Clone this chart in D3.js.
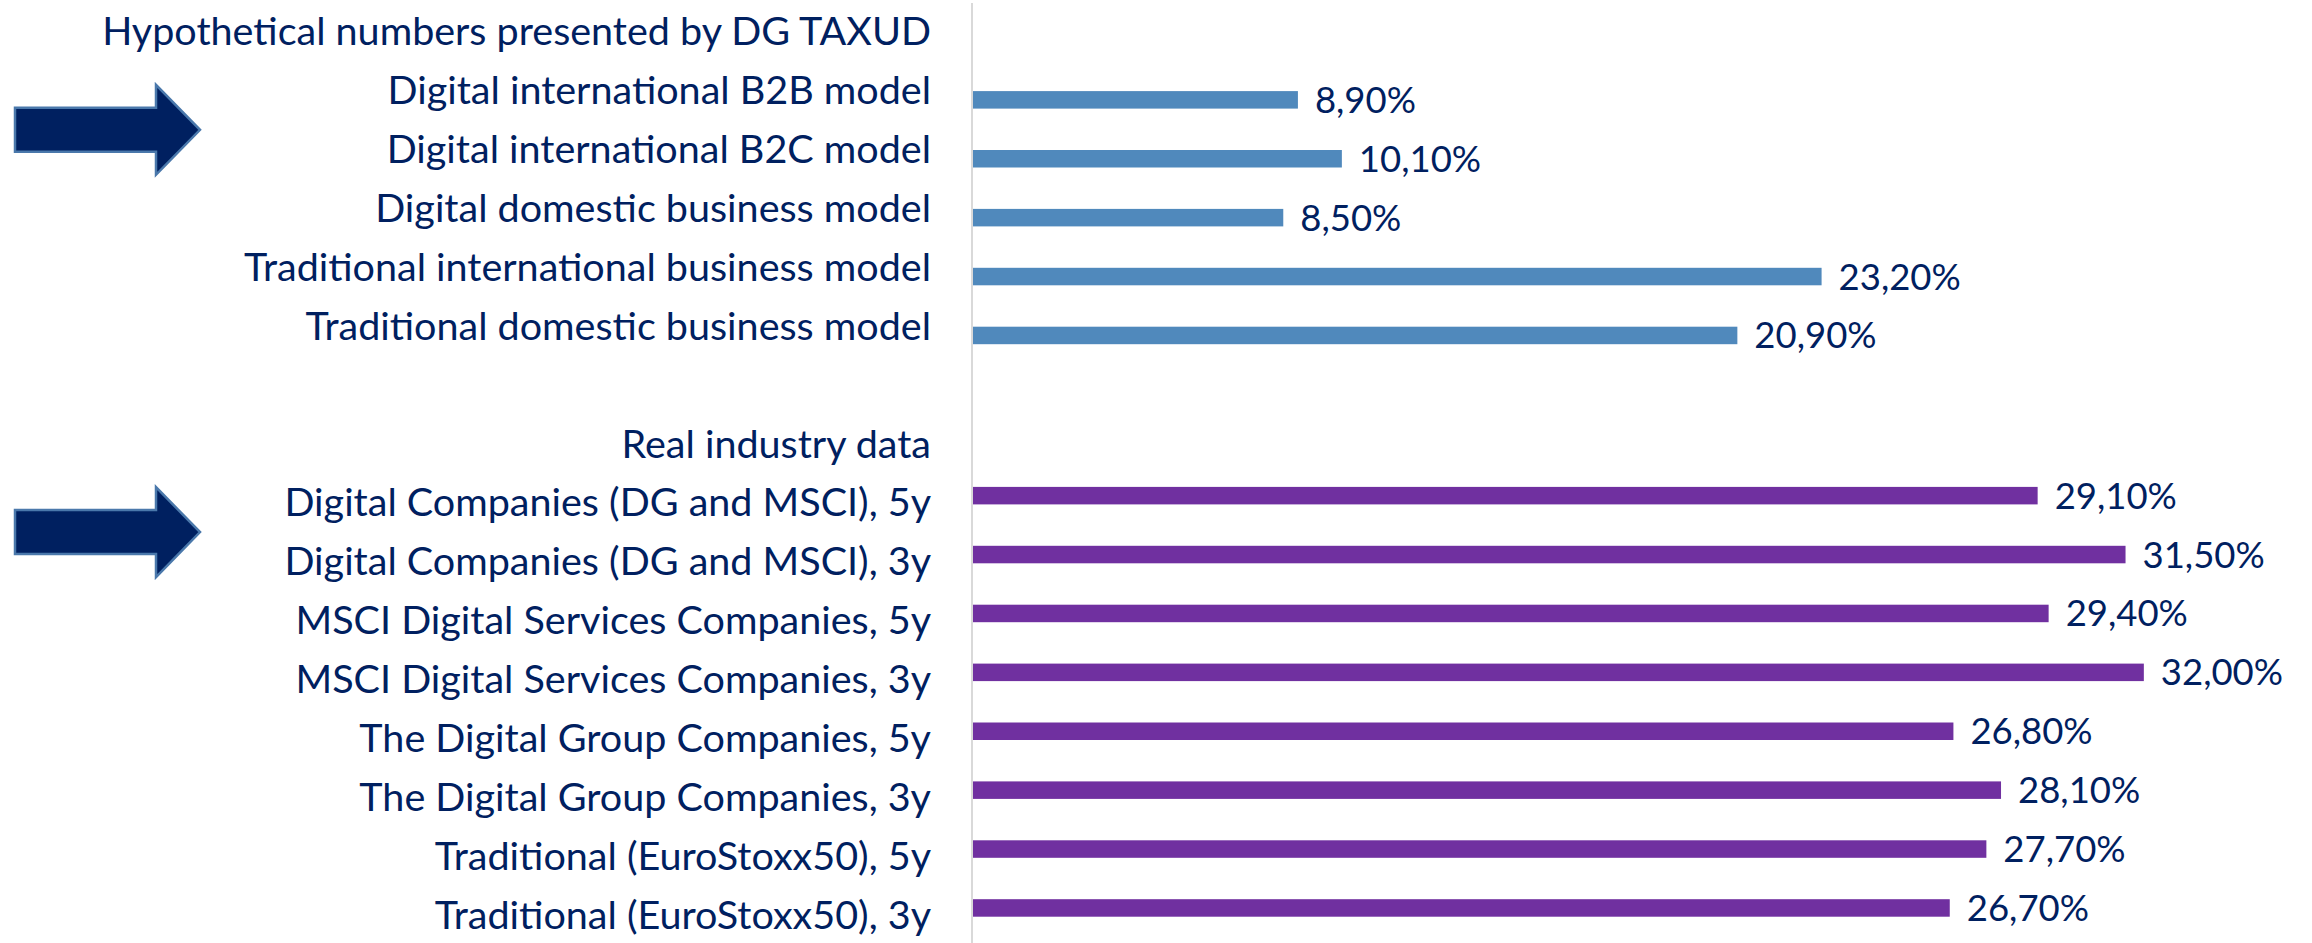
<!DOCTYPE html>
<html>
<head>
<meta charset="utf-8">
<script src="https://cdn.jsdelivr.net/npm/d3@7"></script>
<style>
  body { margin: 0; background: #fff; }
  svg text { font-family: Lato, "Open Sans", sans-serif; fill: #002060; }
</style>
</head>
<body>
<svg class="chart"></svg>
<script>
// rows of the chart, top to bottom (headers and a blank spacer have no bar)
var rows = [
  "Hypothetical numbers presented by DG TAXUD",
  "Digital international B2B model",
  "Digital international B2C model",
  "Digital domestic business model",
  "Traditional international business model",
  "Traditional domestic business model",
  "",
  "Real industry data",
  "Digital Companies (DG and MSCI), 5y",
  "Digital Companies (DG and MSCI), 3y",
  "MSCI Digital Services Companies, 5y",
  "MSCI Digital Services Companies, 3y",
  "The Digital Group Companies, 5y",
  "The Digital Group Companies, 3y",
  "Traditional (EuroStoxx50), 5y",
  "Traditional (EuroStoxx50), 3y"
];

// hypothetical numbers (DG TAXUD)
var hypCategories = rows.slice(1, 6);
var hypValues = [0.089, 0.101, 0.085, 0.232, 0.209];

// real industry data
var realCategories = rows.slice(8);
var realValues = [0.291, 0.315, 0.294, 0.320, 0.268, 0.281, 0.277, 0.267];

// arrows point between these pairs of rows
var arrowRows = [
  ["Digital international B2B model", "Digital international B2C model"],
  ["Digital Companies (DG and MSCI), 5y", "Digital Companies (DG and MSCI), 3y"]
];

var width = 2312, height = 943;
var axisX = 972;

var svg = d3.select("svg.chart")
  .attr("width", width)
  .attr("height", height);

var x = d3.scaleLinear()
  .domain([0, 0.35])
  .range([axisX, axisX + 36.62 * 35]);

var y = d3.scaleBand()
  .domain(rows)
  .range([2, 2 + rows.length * 58.9]);

var fmt = function(v) { return d3.format(".2f")(v * 100).replace(".", ",") + "%"; };

var series = [
  {cats: hypCategories, vals: hypValues, color: "#5089BC", shift: 9.5},
  {cats: realCategories, vals: realValues, color: "#7030A0", shift: -7}
];

var barH = 17.5;

// bars
series.forEach(function(s) {
  var data = s.cats.map(function(c, i) { return {cat: c, val: s.vals[i]}; });
  var g = svg.append("g");
  g.selectAll("rect")
    .data(data)
    .enter().append("rect")
      .attr("x", x(0))
      .attr("y", function(d) { return y(d.cat) + y.bandwidth() / 2 + s.shift - barH / 2; })
      .attr("width", function(d) { return x(d.val) - x(0); })
      .attr("height", barH)
      .attr("fill", s.color);

  // value labels
  g.selectAll("text")
    .data(data)
    .enter().append("text")
      .attr("x", function(d) { return x(d.val) + 17; })
      .attr("y", function(d) { return y(d.cat) + y.bandwidth() / 2 + s.shift + 13; })
      .style("font-size", "36.5px")
      .text(function(d) { return fmt(d.val); });
});

// category axis line
svg.append("line")
  .attr("x1", axisX).attr("x2", axisX)
  .attr("y1", 3).attr("y2", height)
  .attr("stroke", "#d9d9d9")
  .attr("stroke-width", 2);

// category labels
svg.append("g")
  .selectAll("text")
  .data(rows)
  .enter().append("text")
    .attr("x", axisX - 41)
    .attr("y", function(d) { return y(d) + y.bandwidth() / 2 + 13.8; })
    .attr("text-anchor", "end")
    .style("font-size", "39.5px")
    .text(function(d) { return d; });

// arrows
var arrowShift = [10, 0];
arrowRows.forEach(function(pair, i) {
  var cy = (y(pair[0]) + y(pair[1])) / 2 + y.bandwidth() / 2 + arrowShift[i];
  var pts = [
    [15, cy - 22], [156, cy - 22], [156, cy - 45], [200, cy],
    [156, cy + 45], [156, cy + 22], [15, cy + 22]
  ];
  svg.append("path")
    .attr("d", d3.line()(pts) + "Z")
    .attr("fill", "#002060")
    .attr("stroke", "#4a78ab")
    .attr("stroke-width", 2.5);
});
</script>
</body>
</html>
